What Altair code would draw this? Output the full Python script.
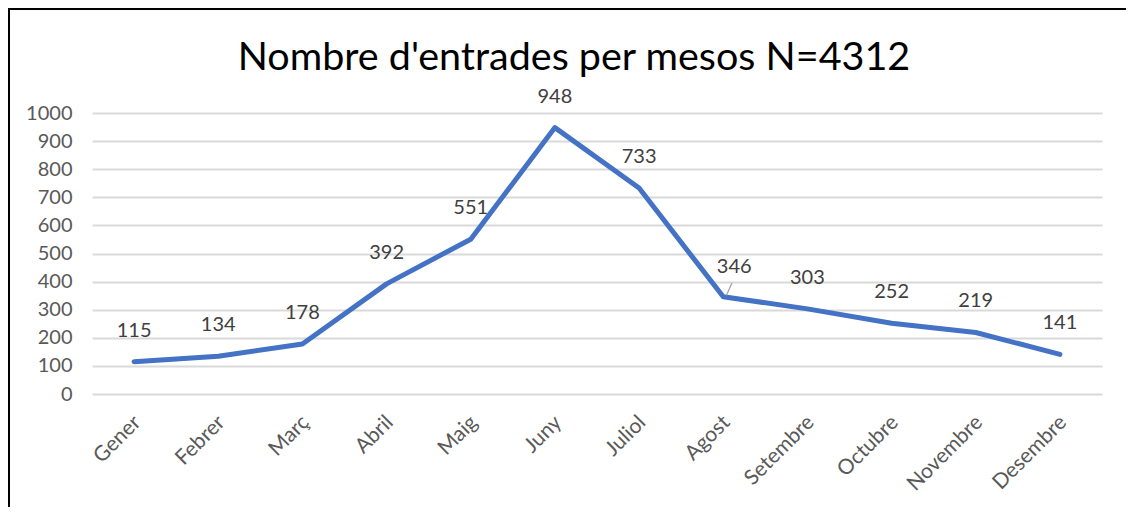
import altair as alt
import pandas as pd

months = ["Gener", "Febrer", "Març", "Abril", "Maig", "Juny", "Juliol",
          "Agost", "Setembre", "Octubre", "Novembre", "Desembre"]
values = [115, 134, 178, 392, 551, 948, 733, 346, 303, 252, 219, 141]
title_text = "Nombre d'entrades per mesos N=4312"
y_ticks = [0, 100, 200, 300, 400, 500, 600, 700, 800, 900, 1000]

df = pd.DataFrame({"mes": months, "entrades": values})

FONT = "Lato"
LINE_COLOR = "#4472C4"

x_enc = alt.X("mes:N", sort=months,
              scale=alt.Scale(paddingInner=1, paddingOuter=0.5),
              axis=alt.Axis(title=None, labelAngle=-45, labelAlign="right",
                            labelBaseline="middle", labelPadding=25,
                            labelOffset=3,
                            labelFont=FONT, labelFontSize=21,
                            labelColor="#595959", ticks=False, domain=False,
                            grid=False, labelOverlap=False))
y_enc = alt.Y("entrades:Q",
              scale=alt.Scale(domain=[0, 1000], nice=False),
              axis=alt.Axis(title=None, values=y_ticks, format="d",
                            labelFont=FONT, labelOverlap=False,
                            labelFlush=False,
                            labelFontSize=20, labelColor="#595959",
                            labelPadding=20, ticks=False, domain=False,
                            grid=True, gridColor="#D9D9D9", gridWidth=2))

base = alt.Chart(df)

line = base.mark_line(color=LINE_COLOR, strokeWidth=5, strokeCap="round",
                      strokeJoin="round").encode(x=x_enc, y=y_enc)

labels = base.transform_filter(alt.datum.mes != "Agost").mark_text(
    dy=-31, baseline="middle", align="center", font=FONT, fontSize=20,
    color="#404040").encode(x=x_enc, y=y_enc, text="entrades:Q")

label_agost = base.transform_filter(alt.datum.mes == "Agost").mark_text(
    dy=-30, dx=11, baseline="middle", align="center", font=FONT, fontSize=20,
    color="#404040").encode(x=x_enc, y=y_enc, text="entrades:Q")

leader = base.transform_filter(alt.datum.mes == "Agost").mark_point(
    shape="M0.2,-0.1L0.55,-0.875", size=1024, stroke="#A6A6A6",
    strokeWidth=1.3, filled=False, opacity=1).encode(x=x_enc, y=y_enc)

frame = base.transform_filter(alt.datum.mes == "Gener").mark_rect(
    fill=None, stroke="black", strokeWidth=2).encode(
    x=alt.value(-83), x2=alt.value(1300),
    y=alt.value(-104), y2=alt.value(600))

title = base.transform_filter(alt.datum.mes == "Gener").mark_text(
    text=title_text, font=FONT, fontSize=39.5, color="black",
    align="center", baseline="alphabetic").encode(
    x=alt.value(482), y=alt.value(-43))

chart = alt.layer(line, labels, label_agost, leader, frame, title).properties(
    width=1010, height=281,
    padding={"left": 84, "top": 105, "right": 24, "bottom": 113},
    autosize=alt.AutoSizeParams(type="none"),
    background="white",
).configure_view(stroke=None)

chart.save("out.html", embed_options={"renderer": "svg", "actions": False})
